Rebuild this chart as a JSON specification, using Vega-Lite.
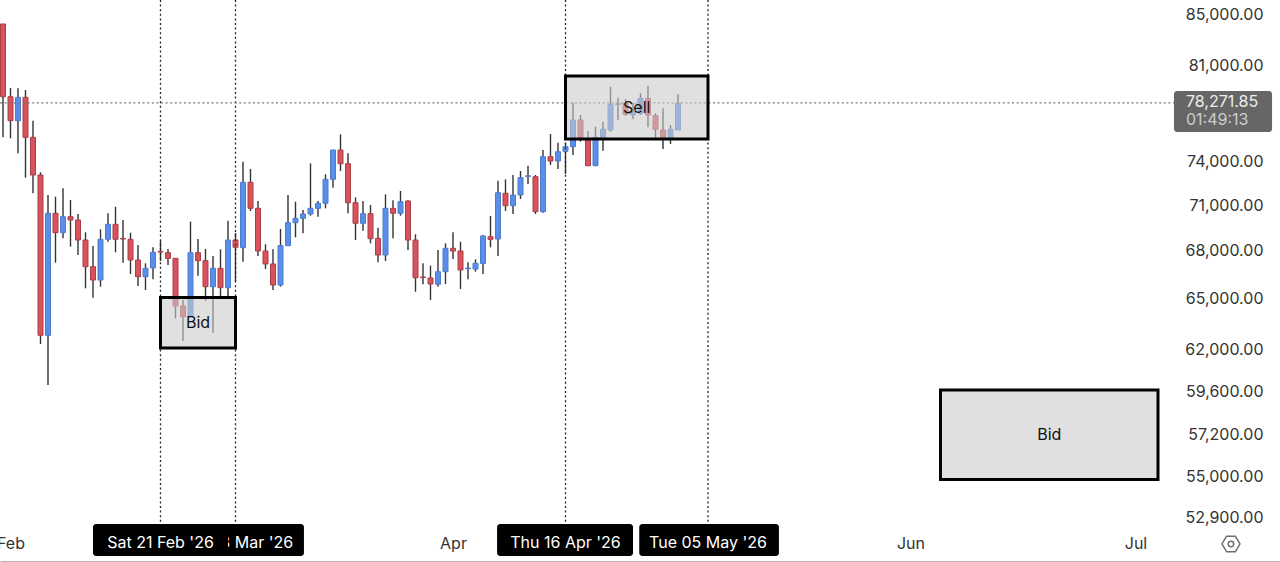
{
"$schema":"https://vega.github.io/schema/vega-lite/v6.json",
"width":1280,"height":562,"padding":0,"autosize":{"type":"none"},"background":"white",
"config":{"view":{"stroke":null},"font":"Inter","axis":{"title":null,"grid":false}},
"datasets":{
"candles":[
{"d":"2026-01-31","o":84205,"h":84205,"l":75682,"c":78632},
{"d":"2026-02-01","o":78632,"h":79278,"l":75611,"c":76876},
{"d":"2026-02-02","o":76876,"h":79256,"l":74552,"c":78588},
{"d":"2026-02-03","o":78588,"h":79130,"l":72857,"c":75682},
{"d":"2026-02-04","o":75682,"h":76876,"l":71794,"c":73043},
{"d":"2026-02-05","o":73043,"h":73229,"l":62297,"c":62811},
{"d":"2026-02-06","o":62811,"h":71678,"l":59939,"c":70457},
{"d":"2026-02-07","o":70457,"h":71565,"l":67255,"c":69181},
{"d":"2026-02-08","o":69181,"h":72134,"l":68816,"c":70231},
{"d":"2026-02-09","o":70231,"h":71344,"l":68274,"c":70013},
{"d":"2026-02-10","o":70013,"h":70411,"l":67743,"c":68706},
{"d":"2026-02-11","o":68706,"h":69207,"l":65652,"c":67001},
{"d":"2026-02-12","o":67001,"h":68319,"l":65072,"c":66167},
{"d":"2026-02-13","o":66167,"h":69403,"l":65752,"c":68751},
{"d":"2026-02-14","o":68751,"h":70457,"l":68596,"c":69729},
{"d":"2026-02-15","o":69729,"h":70893,"l":67916,"c":68751},
{"d":"2026-02-16","o":68810,"h":70013,"l":67255,"c":68770},
{"d":"2026-02-17","o":68751,"h":69181,"l":66541,"c":67425},
{"d":"2026-02-18","o":67425,"h":68383,"l":65795,"c":66372},
{"d":"2026-02-19","o":66372,"h":67217,"l":65547,"c":66900},
{"d":"2026-02-20","o":66919,"h":68236,"l":66210,"c":67916},
{"d":"2026-02-21","o":67975,"h":68641,"l":67362,"c":67935},
{"d":"2026-02-22","o":67890,"h":68127,"l":67110,"c":67532},
{"d":"2026-02-23","o":67532,"h":67552,"l":63823,"c":64569},
{"d":"2026-02-24","o":64569,"h":64932,"l":62474,"c":63919},
{"d":"2026-02-25","o":63919,"h":69901,"l":63900,"c":67890},
{"d":"2026-02-26","o":67890,"h":68771,"l":66434,"c":67381},
{"d":"2026-02-27","o":67381,"h":68127,"l":64889,"c":65752},
{"d":"2026-02-28","o":65752,"h":67679,"l":62965,"c":66900},
{"d":"2026-03-01","o":66900,"h":68108,"l":65054,"c":65690},
{"d":"2026-03-02","o":65690,"h":69967,"l":65133,"c":68706},
{"d":"2026-03-03","o":68706,"h":69162,"l":66062,"c":68236},
{"d":"2026-03-04","o":68210,"h":73963,"l":67318,"c":72543},
{"d":"2026-03-05","o":72543,"h":73457,"l":70609,"c":70787},
{"d":"2026-03-06","o":70787,"h":71277,"l":67679,"c":67999},
{"d":"2026-03-07","o":67999,"h":68426,"l":66856,"c":67173},
{"d":"2026-03-08","o":67173,"h":68108,"l":65547,"c":65857},
{"d":"2026-03-09","o":65857,"h":69422,"l":65752,"c":68338},
{"d":"2026-03-10","o":68338,"h":71678,"l":68338,"c":69835},
{"d":"2026-03-11","o":69835,"h":71230,"l":68882,"c":70125},
{"d":"2026-03-12","o":70125,"h":70675,"l":69143,"c":70411},
{"d":"2026-03-13","o":70411,"h":73851,"l":70299,"c":70787},
{"d":"2026-03-14","o":70787,"h":71277,"l":70231,"c":71123},
{"d":"2026-03-15","o":71123,"h":73091,"l":70787,"c":72748},
{"d":"2026-03-16","o":72748,"h":74783,"l":72174,"c":74783},
{"d":"2026-03-17","o":74783,"h":75895,"l":73319,"c":73823},
{"d":"2026-03-18","o":73823,"h":74552,"l":70457,"c":71163},
{"d":"2026-03-19","o":71163,"h":71525,"l":68706,"c":69795},
{"d":"2026-03-20","o":69795,"h":71277,"l":69312,"c":70431},
{"d":"2026-03-21","o":70431,"h":71009,"l":68492,"c":68791},
{"d":"2026-03-22","o":68815,"h":69507,"l":67280,"c":67743},
{"d":"2026-03-23","o":67743,"h":71726,"l":67362,"c":70787},
{"d":"2026-03-24","o":70787,"h":71324,"l":68816,"c":70457},
{"d":"2026-03-25","o":70457,"h":71950,"l":70299,"c":71230},
{"d":"2026-03-26","o":71277,"h":71324,"l":68063,"c":68706},
{"d":"2026-03-27","o":68706,"h":69077,"l":65442,"c":66310},
{"d":"2026-03-28","o":66355,"h":67217,"l":65900,"c":66315},
{"d":"2026-03-29","o":66293,"h":67066,"l":64932,"c":65919},
{"d":"2026-03-30","o":65900,"h":68063,"l":65752,"c":66686},
{"d":"2026-03-31","o":66686,"h":68492,"l":65919,"c":68172},
{"d":"2026-04-01","o":68172,"h":69207,"l":67488,"c":67999},
{"d":"2026-04-02","o":67999,"h":68596,"l":65609,"c":66793},
{"d":"2026-04-03","o":66880,"h":67280,"l":66210,"c":66920},
{"d":"2026-04-04","o":66856,"h":67470,"l":66686,"c":67217},
{"d":"2026-04-05","o":67198,"h":69032,"l":66541,"c":68966},
{"d":"2026-04-06","o":68921,"h":70277,"l":68236,"c":68751},
{"d":"2026-04-07","o":68771,"h":72652,"l":67679,"c":71834},
{"d":"2026-04-08","o":71794,"h":72748,"l":70609,"c":70962},
{"d":"2026-04-09","o":70962,"h":73043,"l":70411,"c":71678},
{"d":"2026-04-10","o":71678,"h":73319,"l":71411,"c":72857},
{"d":"2026-04-11","o":72950,"h":73685,"l":72428,"c":72990},
{"d":"2026-04-12","o":72926,"h":73043,"l":70411,"c":70563},
{"d":"2026-04-13","o":70563,"h":74783,"l":70497,"c":74313},
{"d":"2026-04-14","o":74313,"h":75915,"l":73732,"c":74012},
{"d":"2026-04-15","o":74012,"h":75299,"l":73457,"c":74664},
{"d":"2026-04-16","o":74692,"h":75278,"l":73113,"c":75022},
{"d":"2026-04-17","o":75022,"h":78188,"l":74433,"c":76926},
{"d":"2026-04-18","o":76926,"h":77288,"l":75370,"c":75611},
{"d":"2026-04-19","o":75540,"h":76133,"l":73685,"c":73685},
{"d":"2026-04-20","o":73685,"h":76443,"l":73685,"c":75682},
{"d":"2026-04-21","o":75682,"h":76804,"l":74734,"c":76255},
{"d":"2026-04-22","o":76205,"h":79374,"l":76083,"c":78070},
{"d":"2026-04-23","o":78060,"h":78558,"l":76926,"c":78120},
{"d":"2026-04-24","o":78144,"h":78462,"l":77237,"c":77339},
{"d":"2026-04-25","o":77288,"h":78166,"l":76998,"c":77529},
{"d":"2026-04-26","o":77412,"h":78885,"l":77288,"c":78514},
{"d":"2026-04-27","o":78514,"h":79426,"l":76400,"c":77288},
{"d":"2026-04-28","o":77237,"h":77412,"l":75611,"c":76255},
{"d":"2026-04-29","o":76205,"h":77780,"l":74853,"c":75660},
{"d":"2026-04-30","o":75660,"h":76565,"l":75206,"c":76255},
{"d":"2026-05-01","o":76205,"h":78810,"l":76205,"c":78144}
],
"marks":[
{"d":"2026-02-21","top":86128,"bottom":52580},
{"d":"2026-03-03","top":86128,"bottom":52580},
{"d":"2026-04-16","top":86128,"bottom":52580},
{"d":"2026-05-05","top":86128,"bottom":52580}
],
"zones":[
{"d":"2026-02-21","d2":"2026-03-03","top":65085,"bottom":62062,"label":"Bid","ld":"2026-02-26T00:00:00Z","lp":63541},
{"d":"2026-04-16","d2":"2026-05-05","top":80181,"bottom":75561,"label":"Sell","ld":"2026-04-25T12:00:00Z","lp":77799},
{"d":"2026-06-05","d2":"2026-07-04","top":59657,"bottom":54835,"label":"Bid","ld":"2026-06-19T12:00:00Z","lp":57180}
],
"tagBack":[{"d":"2026-02-22T00:00:00Z","d2":"2026-03-12T03:00:00Z","label":"Tue 03 Mar '26","ld":"2026-03-03T00:00:00Z"}],
"tagFront":[
{"d":"2026-02-12T00:00:00Z","d2":"2026-03-02T00:00:00Z","label":"Sat 21 Feb '26","ld":"2026-02-21T00:00:00Z"},
{"d":"2026-04-06T21:00:00Z","d2":"2026-04-25T00:00:00Z","label":"Thu 16 Apr '26","ld":"2026-04-16T00:00:00Z"},
{"d":"2026-04-25T20:00:00Z","d2":"2026-05-14T11:00:00Z","label":"Tue 05 May '26","ld":"2026-05-05T00:00:00Z"}
]
},
"layer":[
{"data":{"name":"candles"},"mark":{"type":"rule","color":"#333333","strokeWidth":1.4},
 "encoding":{
  "x":{"field":"d","type":"temporal","scale":{"type":"utc","padding":0,"domain":["2026-01-30T14:24:00Z","2026-07-20T06:24:00Z"]},
   "axis":{"values":[{"year":2026,"month":2,"date":1,"utc":true},{"year":2026,"month":3,"date":1,"utc":true},{"year":2026,"month":4,"date":1,"utc":true},{"year":2026,"month":5,"date":1,"utc":true},{"year":2026,"month":6,"date":1,"utc":true},{"year":2026,"month":7,"date":1,"utc":true}],"format":"%b","ticks":false,"domain":true,"domainColor":"#666666","domainWidth":2,"labelPadding":-19,"labelBaseline":"middle","labelAlign":"center","labelFontSize":16,"labelColor":"#333333","labelFont":"Inter","labelFlush":false,"labelBound":false,"labelOverlap":false,"title":null,"orient":"bottom"}},
  "y":{"field":"l","type":"quantitative","scale":{"type":"log","domain":[50737,86128],"nice":false,"zero":false},
   "axis":{"orient":"right","values":[85000,81000,74000,71000,68000,65000,62000,59600,57200,55000,52900],"format":",.2f","ticks":false,"domain":false,"grid":false,"labelPadding":-17,"labelAlign":"right","labelBaseline":"middle","labelFontSize":16,"labelColor":"#333333","labelFont":"Inter","labelOverlap":false,"labelBound":false,"labelFlush":false,"title":null}},
  "y2":{"field":"h"}
 }},
{"data":{"name":"candles"},"mark":{"type":"bar","size":5,"strokeWidth":1},
 "encoding":{
  "x":{"field":"d","type":"temporal"},
  "y":{"field":"o","type":"quantitative"},
  "y2":{"field":"c"},
  "fill":{"condition":{"test":"datum.c>=datum.o","value":"#5a8eea"},"value":"#d9525c"},
  "stroke":{"condition":{"test":"datum.c>=datum.o","value":"#4d7ccc"},"value":"#a93f48"}
 }},
{"data":{"name":"marks"},"mark":{"type":"rule","color":"#222222","strokeWidth":1.3,"strokeDash":[2,2.6]},
 "encoding":{"x":{"field":"d","type":"temporal"},"y":{"field":"top","type":"quantitative"},"y2":{"field":"bottom"}}},
{"data":{"values":[{"d":"2026-01-30T14:24:00Z","d2":"2026-07-06T03:00:00Z","price":78180}]},"mark":{"type":"rule","color":"#777777","strokeWidth":1.2,"strokeDash":[2,2.6]},
 "encoding":{"x":{"field":"d","type":"temporal"},"x2":{"field":"d2"},"y":{"field":"price","type":"quantitative"}}},
{"data":{"name":"zones"},"mark":{"type":"rect","fill":"#cbcbcb","fillOpacity":0.6,"stroke":"#000000","strokeWidth":3},
 "encoding":{"x":{"field":"d","type":"temporal"},"x2":{"field":"d2"},"y":{"field":"top","type":"quantitative"},"y2":{"field":"bottom"}}},
{"data":{"name":"zones"},"mark":{"type":"text","fontSize":16,"color":"#111111","align":"center","baseline":"middle"},
 "encoding":{"x":{"field":"ld","type":"temporal"},"y":{"field":"lp","type":"quantitative"},"text":{"field":"label"}}},
{"data":{"values":[{"d":"2026-07-06T03:00:00Z","d2":"2026-07-19T05:00:00Z","top":79056,"bottom":76061}]},"mark":{"type":"rect","fill":"#666666","cornerRadius":3},
 "encoding":{"x":{"field":"d","type":"temporal"},"x2":{"field":"d2"},"y":{"field":"top","type":"quantitative"},"y2":{"field":"bottom"}}},
{"data":{"values":[{"d":"2026-07-07T17:30:00Z","p":78263,"label":"78,271.85","shade":"price"}]},"mark":{"type":"text","fontSize":16,"color":"#eeeeee","align":"left","baseline":"middle"},
 "encoding":{"x":{"field":"d","type":"temporal"},"y":{"field":"p","type":"quantitative"},"text":{"field":"label"}}},
{"data":{"values":[{"d":"2026-07-07T17:30:00Z","p":76926,"label":"01:49:13"}]},"mark":{"type":"text","fontSize":16,"color":"#cccccc","align":"left","baseline":"middle"},
 "encoding":{"x":{"field":"d","type":"temporal"},"y":{"field":"p","type":"quantitative"},"text":{"field":"label"}}},
{"data":{"name":"tagBack"},"mark":{"type":"rect","fill":"#000000","cornerRadius":3},
 "encoding":{"x":{"field":"d","type":"temporal"},"x2":{"field":"d2"},"y":{"datum":52580,"type":"quantitative"},"y2":{"datum":51026}}},
{"data":{"name":"tagBack"},"mark":{"type":"text","fontSize":16,"color":"#ffffff","align":"center","baseline":"middle"},
 "encoding":{"x":{"field":"ld","type":"temporal"},"y":{"datum":51650,"type":"quantitative"},"text":{"field":"label"}}},
{"data":{"name":"tagFront"},"mark":{"type":"rect","fill":"#000000","cornerRadius":3},
 "encoding":{"x":{"field":"d","type":"temporal"},"x2":{"field":"d2"},"y":{"datum":52580,"type":"quantitative"},"y2":{"datum":51026}}},
{"data":{"name":"tagFront"},"mark":{"type":"text","fontSize":16,"color":"#ffffff","align":"center","baseline":"middle"},
 "encoding":{"x":{"field":"ld","type":"temporal"},"y":{"datum":51650,"type":"quantitative"},"text":{"field":"label"}}},
{"data":{"values":[{"d":"2026-07-13T17:30:00Z","p":51605}]},"mark":{"type":"point","shape":"M-1,0L-0.5,-0.85L0.5,-0.85L1,0L0.5,0.85L-0.5,0.85Z","size":324,"filled":false,"stroke":"#333333","strokeWidth":1.5,"strokeJoin":"round"},
 "encoding":{"x":{"field":"d","type":"temporal"},"y":{"field":"p","type":"quantitative"}}},
{"data":{"values":[{"d":"2026-07-13T17:30:00Z","p":51605}]},"mark":{"type":"point","shape":"circle","size":30,"filled":false,"stroke":"#333333","strokeWidth":1.5},
 "encoding":{"x":{"field":"d","type":"temporal"},"y":{"field":"p","type":"quantitative"}}}
]
}
